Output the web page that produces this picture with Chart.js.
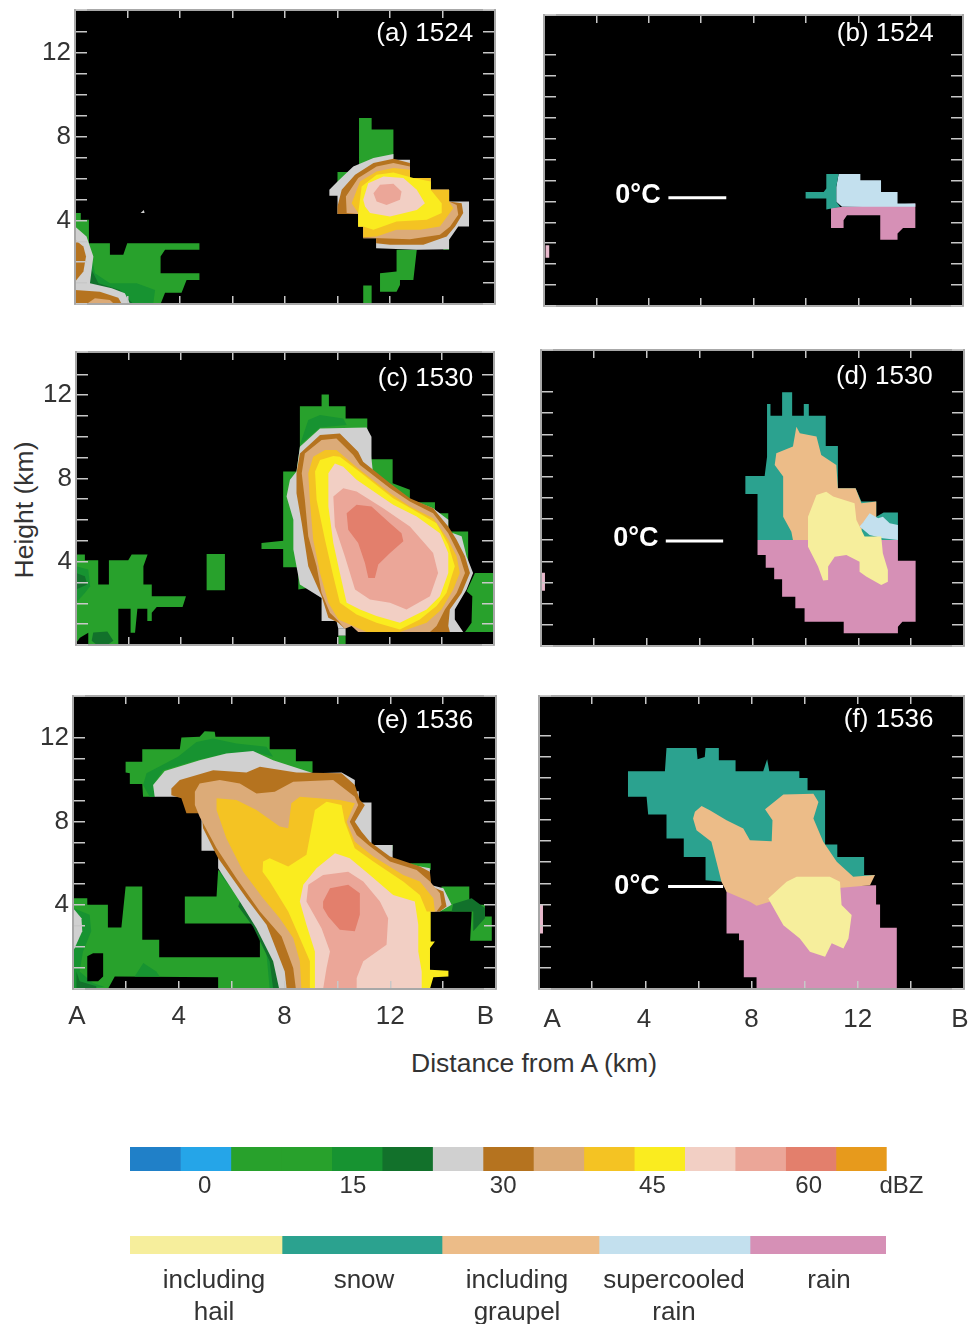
<!DOCTYPE html>
<html lang="en">
<head>
<meta charset="UTF-8">
<title>Radar reflectivity and hydrometeor cross sections</title>
<script src="https://cdn.jsdelivr.net/npm/chart.js"></script>
<style>
    html, body { margin: 0; padding: 0; background: #fff; overflow: hidden; }
    body { width: 970px; height: 1324px; position: relative; font-family: "Liberation Sans", Arial, sans-serif; color: #333; }
    canvas { position: absolute; }
    .axis-title { position: absolute; font-size: 26.5px; white-space: nowrap; }
</style>
</head>
<body>
<div class="axis-title" style="left:24px;top:510px;transform:translate(-50%,-50%) rotate(-90deg);">Height (km)</div>
<div class="axis-title" style="left:534px;top:1063px;transform:translate(-50%,-50%);">Distance from A (km)</div>
<script>
// colours
const green = '#28a12c', green2 = '#179331', green3 = '#12712b', grey = '#d0d0d0', brown = '#b5731f', tan = '#dcab78';
const gold = '#f4c323', yellow = '#faec1f', pink = '#f2cfc4', salmon = '#eba698', red = '#e37f6c';
const hailCol = '#f6ee9c', snowCol = '#2ba28f', graupelCol = '#ecbc88', superCol = '#c3e0ee', rainCol = '#d690b6', rainEdge = '#e8b9cc';

// height ticks and distance labels
const heightLabels = [4, 8, 12];
const distNames = ['A', '4', '8', '12', 'B'];
const distPosE = [0.15, 4, 8, 12, 15.6];
const distPosF = [0.5, 3.95, 8, 12, 15.85];

// (a) reflectivity 1524, outlines in km
const aTopGreen = [[10.82,8.9],[11.3,8.9],[11.3,8.34],[12.13,8.34],[12.13,7],[10.82,6.6]];
const aSideGreen = [[10,6.31],[10.41,6.31],[10.41,6.1],[10,5.46]];
const aBaseGreen = [[12.25,2.59],[13.02,2.59],[12.89,1.15],[12.38,1.15],[12.38,0.91],[12.25,0.59],[11.62,0.59],[11.62,1.47],[12.25,1.55]];
const aTinyGreen = [[14.03,3.07],[14.25,3.07],[14.25,2.59],[14.03,2.59]];
const aFootGreen = [[10.98,0.88],[11.3,0.88],[11.3,0],[10.98,0]];
const aGrey = [[9.69,5.46],[10,5.86],[10.6,6.58],[11.37,6.98],[12.13,7.17],[12.13,6.9],[12.76,6.9],[12.76,6.02],[13.55,6.02],[13.55,5.46],[14.25,5.46],[14.25,4.9],[15.01,4.9],[15.01,3.71],[14.6,3.71],[14.25,3.07],[14.25,2.62],[13.02,2.59],[11.47,2.67],[11.47,3.15],[10.98,3.15],[10.98,3.71],[10.79,3.71],[10.79,4.31],[10,4.31],[10,5.18],[9.69,5.18]];
const aBrown = [[10,4.66],[10.16,5.46],[10.67,6.18],[11.37,6.74],[12.13,6.95],[12.76,6.74],[12.76,6.02],[13.55,6.02],[13.55,5.46],[14.25,5.46],[14.25,4.9],[14.73,4.82],[14.79,4.35],[14.48,3.71],[14.16,3.23],[13.27,2.83],[12,2.83],[11.47,2.91],[11.47,3.15],[10.98,3.15],[10.98,3.71],[10.79,3.71],[10.79,4.31],[10,4.31]];
const aTan = [[10.35,4.35],[10.32,5.14],[10.79,6.02],[11.49,6.58],[12.13,6.74],[12.76,6.58],[12.76,6.02],[13.55,6.02],[13.55,5.46],[14.25,5.46],[14.25,4.9],[14.54,4.74],[14.6,4.27],[14.29,3.71],[13.9,3.31],[12.76,3.1],[11.62,3.15],[10.98,3.19],[10.98,3.71],[10.79,3.71],[10.79,4.31]];
const aGold = [[10.54,4.82],[10.86,5.86],[11.49,6.34],[12.13,6.5],[12.76,6.42],[12.76,6.02],[13.55,6.02],[13.55,5.46],[14.25,5.46],[14.25,4.9],[14.41,4.58],[13.9,3.71],[13.14,3.55],[12.25,3.55],[11.49,3.23],[10.98,3.19],[10.98,3.71],[10.79,3.71],[10.79,4.35]];
const aYellow = [[10.79,4.35],[10.92,5.62],[11.49,6.18],[12.13,6.29],[12.89,6.02],[13.55,5.86],[13.55,5.46],[13.97,4.82],[13.97,4.35],[13.4,4.03],[12.25,3.95],[11.37,3.55],[10.98,3.71],[10.79,3.71]];
const aPink = [[10.98,4.98],[11.17,5.78],[11.75,6.1],[12.51,6.02],[13.02,5.46],[13.33,4.82],[13.02,4.5],[12,4.19],[11.24,4.35],[11.05,4.66]];
const aSalmon = [[11.37,5.3],[11.62,5.7],[12.13,5.75],[12.44,5.38],[12.38,4.98],[11.87,4.74],[11.49,4.9]];
const aLeftGreen = [[0,4.35],[0.22,4.35],[0.22,4.03],[0.53,4.03],[0.53,2.91],[1.33,2.91],[1.33,2.35],[1.84,2.35],[1.99,2.91],[4.74,2.91],[4.74,2.59],[3.43,2.59],[3.26,2.27],[3.26,1.47],[4.74,1.47],[4.74,1.15],[4.25,1.15],[4.06,0.54],[3.43,0.54],[3.26,0],[0,0]];
const aLeftGreen2 = [[0.57,2.75],[0.76,1.47],[1.33,0.99],[2.35,0.99],[3.05,0.67],[2.98,0],[0,0],[0,3.71]];
const aLeftGreen3 = [[0.57,1.79],[0.89,0.99],[1.71,0.67],[2.22,0],[0,0]];
const aLeftGrey = [[0,3.71],[0.44,3.23],[0.7,2.27],[0.57,0.99],[1.4,0.75],[1.9,0.51],[2.1,0],[0,0]];
const aLeftBrown1 = [[0,3.07],[0.32,2.75],[0.42,2.27],[0.32,1.55],[0,1.07]];
const aLeftBrown2 = [[0,0.67],[0.95,0.59],[1.65,0.3],[1.78,0],[0,0]];
const aLeftTan = [[0.44,0],[0.76,0.27],[1.33,0.19],[1.49,0]];
const aSpeck = [[2.5,4.35],[2.62,4.5],[2.65,4.35]];

// (b) hydrometeors 1524
const bRain = [[10.96,4.7],[14.18,4.9],[14.18,3.73],[13.71,3.73],[13.5,3.46],[13.5,3.17],[12.84,3.17],[12.84,4.34],[11.57,4.34],[11.44,4.1],[11.44,3.73],[10.96,3.73]];
const bSuper = [[11.25,6.3],[12.08,6.3],[12.08,6.01],[12.87,6.01],[12.87,5.45],[13.5,5.45],[13.5,4.9],[14.18,4.9],[14.18,4.74],[11.38,4.74],[11.16,4.98],[11.16,5.69]];
const bSnow = [[10.78,6.3],[11.25,6.3],[11.16,5.69],[11.16,4.98],[11.31,4.74],[10.78,4.61],[10.78,5.14],[9.99,5.14],[9.99,5.45],[10.68,5.45],[10.78,5.61]];
const bEdge = [[0.06,2.9],[0.2,2.9],[0.2,2.31],[0.06,2.31]];

// (c) reflectivity 1530
const cStormGreen = [[8.57,11.47],[9.4,11.47],[9.4,12.03],[9.68,12.03],[9.68,11.47],[10.32,11.47],[10.32,10.88],[11.15,10.88],[11.15,10.4],[11.31,8.92],[12.12,8.92],[12.12,7.77],[12.78,7.45],[12.78,6.86],[13.74,6.86],[13.74,6.33],[14.25,6.33],[14.25,5.45],[15.01,5.45],[15.01,3.46],[12.4,3.46],[8.51,2.66],[8.51,3.73],[7.93,3.73],[7.93,4.61],[7.1,4.61],[7.1,4.9],[7.93,5.01],[7.93,8.33],[8.44,8.33],[8.57,9.52]];
const cTopGreen2 = [[8.57,9.6],[8.89,10.8],[9.34,11.04],[10.23,10.88],[10.36,10.56],[9.34,10.45],[8.64,9.68]];
const cGrey = [[8.57,9.52],[9.34,10.4],[11.12,10.45],[11.31,10],[11.31,8.96],[11.38,8.09],[12.14,7.61],[12.78,7],[13.67,6.57],[14.25,6.01],[14.25,5.45],[14.76,5.22],[14.95,4.26],[15.2,3.46],[14.95,2.66],[14.5,1.71],[14.5,1.23],[14.82,0.62],[10.8,0.62],[10.8,1.15],[10.55,1.15],[10.29,0.78],[10.04,0.78],[9.97,1.15],[9.4,1.15],[9.4,2.26],[8.57,2.9],[8.32,4.58],[8.32,6.01],[8.06,7.13],[8.19,7.93],[8.44,8.33]];
const cBrown = [[8.44,8.25],[8.57,9.2],[9.34,10.08],[10.1,10.16],[10.8,9.28],[10.99,8.8],[12.02,7.77],[12.78,7.05],[13.67,6.57],[14.25,5.69],[14.57,5.06],[14.89,4.26],[15.08,3.46],[14.76,2.5],[14.31,1.71],[14.25,0.91],[14.31,0.62],[10.8,0.62],[10.8,1.15],[10.55,1.15],[10.29,0.78],[10.04,1.07],[9.66,1.31],[9.4,2.34],[8.89,3.78],[8.64,5.85],[8.44,7.29]];
const cTan = [[8.64,8.25],[8.76,9.2],[9.4,9.84],[9.97,9.92],[10.61,9.12],[10.87,8.64],[12.02,7.53],[12.78,6.89],[13.67,6.33],[14.25,5.37],[14.69,4.26],[14.89,3.46],[14.57,2.5],[14.12,1.71],[13.8,0.91],[13.55,0.62],[10.8,0.62],[10.55,0.91],[10.29,0.78],[10.04,1.15],[9.72,1.55],[9.4,2.5],[9.21,3.78],[8.89,5.22],[8.76,6.97]];
const cGold = [[8.89,8.25],[9.08,9.04],[9.53,9.36],[9.97,9.36],[10.8,8.48],[12.02,7.29],[12.78,6.65],[13.67,6.09],[14.25,5.06],[14.57,4.26],[14.69,3.46],[14.44,2.66],[13.99,1.71],[13.42,1.07],[12.4,0.62],[11.12,0.62],[10.61,0.91],[10.04,1.23],[9.66,2.03],[9.34,3.46],[9.08,5.06],[8.95,6.97]];
const cYellow = [[9.15,8.33],[9.34,8.88],[9.85,9.07],[10.1,9.04],[10.93,8.25],[12.14,7.05],[12.91,6.49],[13.8,5.85],[14.25,4.82],[14.5,3.78],[14.18,2.5],[13.8,1.87],[13.16,1.23],[12.4,0.75],[11.5,1.07],[10.74,1.47],[10.1,2.03],[9.85,3.3],[9.53,5.06],[9.21,6.97]];
const cPink = [[9.66,8.25],[9.91,8.72],[10.23,8.56],[10.74,7.93],[12.14,6.73],[13.04,6.17],[13.93,5.37],[14.25,4.42],[14.25,3.46],[13.93,2.34],[13.42,1.71],[12.4,1.07],[11.5,1.39],[10.87,1.71],[10.36,2.03],[10.1,3.46],[9.85,4.9],[9.66,6.65]];
const cSalmon = [[9.85,7.13],[10.23,7.53],[10.74,7.37],[11.76,6.57],[12.78,5.69],[13.67,4.42],[13.86,3.46],[13.55,2.34],[12.65,1.71],[12.02,2.03],[11.25,2.19],[10.68,2.66],[10.29,4.26],[9.91,5.69]];
const cRed = [[10.36,6.33],[10.74,6.73],[11.31,6.65],[12.02,5.85],[12.46,5.37],[12.53,4.98],[12.02,4.42],[11.57,3.86],[11.44,3.22],[11.19,3.22],[11.06,3.94],[10.8,4.9],[10.42,5.53]];
const cLeftGreen = [[0,4.34],[0.34,4.34],[0.34,4.07],[0.85,4.07],[0.85,2.9],[1.24,2.9],[1.26,4.07],[2,4.07],[2.13,4.34],[2.74,4.34],[2.58,3.78],[2.58,2.9],[2.9,2.9],[2.9,2.34],[4.21,2.34],[4.08,1.82],[3.09,1.82],[2.9,1.55],[2.9,1.15],[2.73,1.15],[2.73,1.74],[2.35,1.74],[2.26,0.59],[2.09,0.59],[2.09,1.74],[1.62,1.74],[1.62,0],[0.47,0],[0.47,0.59],[0.15,0.35],[0,0.1]];
const cLeftGreen2 = [[0,3.78],[0.47,3.62],[0.54,2.82],[0.34,2.5],[0,2.03]];
const cLeftGreen3 = [[0,3.46],[0.34,3.3],[0.43,2.9],[0,2.66]];
const cFootGreen3 = [[0.66,0.6],[1.2,0.65],[1.43,0.2],[1.2,0],[0.8,0],[0.6,0.2]];
const cBlock = [[5,4.37],[5.7,4.37],[5.7,2.63],[5,2.63]];
const cRightGreen = [[15.27,3.46],[16,3.46],[16,0.62],[14.89,0.62],[15.14,1.07],[15.17,2.34],[14.95,2.58]];
const cFootGrey = [[10.04,0.78],[10.32,0.78],[10.32,0.45],[10.04,0.45]];
const cFootGreen = [[10.04,0.45],[10.32,0.45],[10.32,0],[10.04,0]];

// (d) hydrometeors 1530
const dSnow = [[8.55,11.43],[8.68,11.43],[8.68,10.87],[9.12,10.87],[9.12,11.98],[9.5,11.98],[9.5,10.87],[9.94,10.87],[9.94,11.43],[10.13,11.43],[10.13,10.87],[10.77,10.87],[10.77,9.45],[11.23,9.45],[11.23,7.45],[11.9,7.45],[12.12,6.82],[12.68,6.82],[12.68,6.11],[12.96,6.3],[13.5,6.3],[13.5,5.01],[8.19,5.01],[8.19,7.18],[7.73,7.18],[7.73,8.03],[8.46,8.03],[8.55,8.94]];
const dGraupel = [[9.66,10.36],[9.79,10.05],[10.42,9.89],[10.6,9.02],[11.17,8.55],[11.23,7.45],[11.9,7.45],[12.12,6.74],[12.68,6.82],[12.68,6.11],[12.18,5.83],[12.05,5.01],[9.53,5.01],[9.47,5.4],[9.16,6.11],[9.16,8],[8.84,8.55],[8.9,9.1],[9.53,9.42]];
const dRain = [[8.19,5.01],[13.5,5.01],[13.5,4.03],[14.17,4.03],[14.17,1.15],[13.67,1.15],[13.5,0.91],[13.5,0.6],[11.45,0.6],[11.45,1.15],[9.97,1.15],[9.97,1.78],[9.62,1.78],[9.62,2.33],[9.12,2.33],[9.12,3.15],[8.82,3.15],[8.82,3.7],[8.5,3.7],[8.5,4.3],[8.19,4.3]];
const dSuper = [[12.18,5.83],[12.43,6.27],[12.75,6.03],[12.93,6.11],[13.19,5.8],[13.5,5.72],[13.5,5.01],[12.93,5.09],[12.43,5.24],[12.05,5.64]];
const dHail = [[10.1,6.11],[10.42,7.13],[10.79,7.29],[11.05,7.06],[11.86,6.74],[11.93,5.95],[12.24,5.17],[12.87,5.17],[12.93,4.38],[13.12,3.59],[13.12,3.04],[12.87,2.88],[12.3,3.28],[12.05,3.51],[12.05,3.98],[11.55,4.3],[11.11,4.22],[10.86,3.75],[10.86,3.12],[10.67,3.09],[10.48,3.75],[10.1,4.69]];
const dEdge = [[0,3.46],[0.15,3.46],[0.15,2.61],[0,2.61]];

// (e) reflectivity 1536
const eTopGreen = [[1.99,10.84],[2.62,10.84],[2.62,11.44],[4.04,11.44],[4.1,12],[4.79,12.03],[4.98,12.3],[5.36,12.27],[5.39,12.03],[7.44,12.03],[7.44,11.44],[8.43,11.44],[8.43,10.87],[9.06,10.87],[9.06,10.33],[5,9.7],[3.03,9.17],[2.65,9.17],[2.62,9.78],[2.15,9.78],[2.15,10.29],[1.99,10.33]];
const eTopGreen3 = [[2.9,9.17],[2.65,9.73],[2.78,10.29],[3.97,11.08],[4.67,11.79],[5.3,11.95],[6.18,11.71],[7.32,11.56],[7.57,11.08],[6.81,11.32],[5.8,11.24],[4.67,10.92],[3.41,10.44],[3.03,9.73],[3.09,9.17]];
const eBaseGreen = [[0,4.33],[0.54,4.33],[0.54,4.02],[1.32,4.02],[1.32,2.94],[1.83,2.94],[1.99,4.89],[2.62,4.89],[2.62,2.35],[3.26,2.35],[3.26,1.52],[7.07,1.52],[7.07,3.13],[4.23,3.13],[4.23,4.41],[5.43,4.41],[5.49,5.68],[6.56,4.33],[7.32,3.06],[8.01,1.5],[8.14,0],[5.49,0],[5.49,0.56],[1.58,0.6],[1.32,0],[0,0]];
const eStormGreen2 = [[5.49,5.68],[6.56,4.33],[7.32,3.06],[8.01,1.5],[8.14,0],[7.44,0],[7.31,1.79],[6.69,3.7],[5.68,5.29]];
const eStormGreen3 = [[6.31,4.17],[7,2.98],[7.57,1.79],[7.82,0],[7.57,0],[7.44,1.32],[6.81,2.98],[6.25,3.94]];
const eLeftGreen2 = [[0,3.86],[0.63,3.54],[0.69,2.75],[0.38,1.79],[0.25,0.84],[0.76,0.29],[1.2,0.1],[0,0]];
const eLeftGreen3 = [[0.13,0.84],[0.25,0.37],[0.88,0.13],[0.88,0],[0.13,0]];
const eLeftGrey = [[0,3.86],[0.32,3.38],[0.35,2.75],[0.06,1.95],[0,1.79]];
const eHole = [[0.54,1.56],[0.76,1.71],[1.14,1.71],[1.14,0.6],[0.95,0.37],[0.54,0.37]];
const eBump = [[2.66,1.24],[3.15,0.84],[3.28,0.6],[2.33,0.6]];
const eRightGreen = [[13.94,4.89],[14.99,4.89],[14.99,4.02],[15.58,4.02],[15.58,3.46],[15.84,3.46],[15.84,2.3],[15.02,2.3],[15.08,3.7],[13.88,3.7]];
const eRightGreen3 = [[14.38,4.05],[15.08,4.33],[15.58,3.86],[15.58,3.38],[15.14,2.75],[15.14,3.7],[14.32,3.7]];
const eStrip1 = [[12.74,6],[13.53,6],[13.53,5.68],[13,5.76]];
const eStrip2 = [[11.6,6.87],[12.09,6.87],[12.09,6.6],[11.86,6.71]];
const eGrey = [[3.03,9.73],[3.47,10.4],[4.79,10.92],[5.8,11.24],[6.81,11.35],[7.57,10.92],[9.09,10.29],[10.16,10.33],[10.66,9.97],[10.66,9.44],[10.81,9.44],[10.81,8.9],[11.29,8.9],[11.29,6.87],[12.09,6.87],[12.09,6.08],[13.5,5.76],[13.5,4.97],[14.01,4.81],[14.32,4.02],[13.88,3.7],[13.5,3.7],[13.5,0],[7.8,0],[7.57,1.32],[6.94,2.9],[6.31,4.17],[5.49,5.76],[5.49,6.6],[4.86,6.6],[4.86,8.3],[4.1,9.17],[3.09,9.17]];
const eBrown = [[3.72,9.57],[4.04,9.97],[5.3,10.44],[6.56,10.33],[7.07,10.6],[8.45,10.33],[10.16,10.29],[10.66,9.73],[10.85,9.02],[11.04,8.78],[10.66,7.98],[10.91,7.51],[11.23,7.03],[11.99,6.32],[13.12,5.84],[13.5,5.6],[13.56,4.89],[14.01,4.65],[14.13,3.94],[13.88,3.7],[13.5,3.7],[13.5,0],[8.08,0],[8.01,0.84],[7.32,3.06],[6.56,4.33],[5.49,6.24],[4.92,7.67],[4.86,8.38],[4.29,8.38],[4.1,9.1],[3.72,9.25]];
const eTan = [[4.61,9.41],[4.79,9.81],[5.55,9.97],[6.31,9.81],[6.94,9.33],[7.63,9.41],[8.33,9.89],[9.84,9.97],[10.66,9.17],[10.79,8.78],[10.47,7.98],[10.73,7.35],[11.17,6.87],[11.99,6.08],[13,5.68],[13.5,5.13],[13.88,4.57],[13.94,4.02],[13.75,3.7],[13.5,3.7],[13.5,0],[8.43,0],[8.33,1],[7.89,2.51],[7.07,3.7],[6.18,5.29],[5.43,6.71],[4.79,8.22],[4.61,8.78]];
const eGold = [[5.43,9.1],[6.18,9.02],[6.94,8.54],[7.82,7.75],[8.14,7.67],[8.26,8.86],[8.58,9.17],[10.09,9.02],[10.66,8.86],[10.35,7.98],[10.66,7.03],[11.36,6.32],[12.49,5.44],[13.12,5.13],[13.63,4.33],[13.69,3.7],[13.5,3.7],[13.5,0],[8.64,0],[8.58,1.32],[8.33,2.43],[7.82,3.38],[7.19,4.33],[6.44,5.6],[5.8,7.19],[5.43,8.54]];
const eYellow = [[7.19,6.08],[7.44,6.24],[8.14,5.84],[8.83,6.4],[9.15,8.54],[9.59,8.94],[10.16,8.78],[10.28,7.98],[10.66,6.71],[11.36,6.08],[12.49,5.13],[13.12,4.49],[13.38,3.7],[13.53,3.7],[13.53,2.27],[13.69,2.27],[13.5,1.95],[13.5,0.92],[14.2,0.87],[14.2,0.6],[13.63,0.56],[13.5,0],[8.96,0],[8.96,1.32],[8.58,2.43],[8.14,3.7],[7.44,5.13],[7.17,5.6]];
const ePink = [[8.71,4.97],[9.21,5.76],[9.91,6.48],[10.47,6.24],[11.23,5.44],[12.11,4.49],[12.93,4.17],[13.06,3.06],[13.06,1.79],[13.19,0.84],[13.19,0],[9.15,0],[9.15,1.79],[8.83,3.06],[8.58,4.17]];
const eSalmon = [[8.9,4.97],[9.46,5.44],[10.41,5.6],[10.98,5.13],[11.61,4.17],[11.92,3.38],[11.86,2.11],[10.98,1.32],[10.73,0.52],[10.73,0],[9.46,0],[9.59,1],[9.72,1.79],[9.4,2.9],[8.83,4.17]];
const eRed = [[9.46,4.17],[9.72,4.81],[10.41,4.97],[10.85,4.57],[10.85,3.54],[10.66,2.75],[10.09,2.83],[9.65,3.46],[9.46,3.86]];

// (f) hydrometeors 1536
const fSnow = [[4.8,11.4],[5.93,11.4],[5.97,10.87],[6.24,10.98],[6.27,11.4],[6.77,11.4],[6.77,10.82],[7.4,10.82],[7.4,10.3],[8.44,10.3],[8.59,10.87],[8.67,10.3],[9.8,10.3],[9.8,9.98],[10.11,9.98],[10.11,9.4],[10.77,9.4],[10.77,6.83],[11.23,6.83],[11.23,6.25],[12.24,6.25],[12.24,5.39],[12.65,5.39],[12.21,5.07],[6.93,5.07],[6.27,5.15],[6.27,6.25],[5.45,6.25],[5.45,7.12],[4.8,7.12],[4.8,8.25],[4.11,8.25],[4.05,9.09],[3.35,9.09],[3.35,10.3],[4.74,10.3]];
const fRain = [[7.06,4.76],[12.69,4.91],[12.69,4],[12.84,4],[12.84,2.9],[13.47,2.9],[13.47,0],[8.19,0],[8.19,0.55],[7.71,0.55],[7.71,2.31],[7.53,2.31],[7.53,2.63],[7.06,2.63]];
const fGraupel = [[5.87,8.38],[6.12,8.66],[6.43,8.46],[7.06,7.98],[7.69,7.59],[7.94,7.04],[8.76,6.99],[8.79,7.98],[8.51,8.5],[9.2,9.2],[10.33,9.24],[10.52,8.85],[10.33,8.06],[10.7,6.96],[11.21,6.02],[11.83,5.31],[12.65,5.39],[12.46,4.91],[11.39,4.79],[9.5,4.6],[8.69,4.13],[8.19,3.94],[7.94,4.13],[7.06,4.6],[6.87,5.07],[6.68,6.02],[6.49,6.96],[5.93,7.51],[5.8,8.06]];
const fHail = [[8.63,4.28],[9.32,5.07],[9.7,5.31],[10.95,5.31],[11.33,5.07],[11.39,3.97],[11.77,3.5],[11.65,2.39],[11.46,1.92],[11.02,2.16],[10.77,1.53],[10.2,1.76],[9.82,2.39],[9.2,3.02],[8.88,3.73]];
const fEdge = [[0,3.97],[0.15,3.97],[0.15,2.63],[0,2.63]];

// freezing level lines and labels, km
const bFreeze = [[4.75,5.17],[6.96,5.17]];
const dFreeze = [[4.72,4.96],[6.89,4.96]];
const fFreeze = [[4.86,4.85],[6.93,4.85]];

// colour scales
const dbzEdges = [-7.5,-2.5,2.5,7.5,12.5,17.5,22.5,27.5,32.5,37.5,42.5,47.5,52.5,57.5,62.5,67.5];
const dbzColors = ['#2080c8','#25a5e8',green,green,green2,green3,grey,brown,tan,gold,yellow,pink,salmon,red,'#e79a1c'];
const dbzTickPos = [-0.1,14.6,29.5,44.3,59.8,69];
const dbzTickText = ['0','15','30','45','60','dBZ'];
const phaseEdges = [0,152,312,469,620,756];
const phaseColors = [hailCol,snowCol,graupelCol,superCol,rainCol];
const phaseTickPos = [84,234,387,544,699];
const phaseTickText = [['including','hail'],['snow'],['including','graupel'],['supercooled','rain'],['rain']];

Chart.defaults.font.family = '"Liberation Sans", Arial, sans-serif';
Chart.defaults.color = '#333';
Chart.defaults.animation = false;

// black plot background and the white text inside the panels
const panelPaint = {
    id: 'panelPaint',
    beforeDraw(chart) {
        const a = chart.chartArea, ctx = chart.ctx;
        if (chart.config.type !== 'scatter') return;
        ctx.save();
        ctx.fillStyle = '#000';
        ctx.fillRect(a.left, a.top, a.width, a.height);
        ctx.restore();
    },
    afterDraw(chart, args, opts) {
        if (!opts.items) return;
        const ctx = chart.ctx;
        ctx.save();
        ctx.fillStyle = '#fff';
        ctx.textBaseline = 'middle';
        opts.items.forEach(t => {
            ctx.font = t.font;
            ctx.textAlign = t.align;
            ctx.fillText(t.text, chart.scales.x.getPixelForValue(t.x), chart.scales.y.getPixelForValue(t.y));
        });
        ctx.restore();
    }
};
Chart.register(panelPaint);

function addCanvas(left, top, width, height) {
    const c = document.createElement('canvas');
    c.width = width;
    c.height = height;
    c.style.left = left + 'px';
    c.style.top = top + 'px';
    c.style.width = width + 'px';
    c.style.height = height + 'px';
    document.body.appendChild(c);
    return c;
}

// room round each plot; axis padding needs this much or chart area shrinks
const marginLeft = 50, marginTop = 36, marginRight = 24, marginBottom = 45;

function drawPanel(p) {
    const canvas = addCanvas(p.box[0] - marginLeft, p.box[1] - marginTop,
        p.box[2] - p.box[0] + marginLeft + marginRight, p.box[3] - p.box[1] + marginTop + marginBottom);
    const n = p.layers.length;
    const datasets = p.layers.map((l, i) => ({
        data: l[0].map(v => ({x: v[0], y: v[1]})),
        backgroundColor: l[1],
        fill: 'shape',
        showLine: true,
        borderWidth: 0,
        pointRadius: 0,
        order: n - i + 1
    }));
    if (p.freeze) {
        datasets.push({
            data: p.freeze.map(v => ({x: v[0], y: v[1]})),
            borderColor: '#fff',
            borderWidth: 3,
            fill: false,
            showLine: true,
            pointRadius: 0,
            order: 0
        });
    }
    const grid = len => ({display: true, drawOnChartArea: false, drawTicks: true, tickLength: -len, color: '#c8c8c8', lineWidth: 1.5, z: 1});
    const border = {display: true, color: '#a8a8a8', width: 2, z: 1};
    const xAxis = (position, height) => ({
        type: 'linear', position, min: 0, max: 16,
        ticks: {display: false, stepSize: 2},
        grid: grid(8), border,
        afterFit(s) { s.height = height; }
    });
    const yAxis = (position, width, labels) => ({
        type: 'linear', position, min: 0, max: p.yMax,
        ticks: {
            display: labels, stepSize: 1, autoSkip: false, padding: 16,
            font: {size: 26}, color: '#333',
            callback: v => heightLabels.includes(v) ? String(v) : ''
        },
        grid: grid(12), border,
        afterFit(s) { s.width = width; }
    });
    new Chart(canvas, {
        type: 'scatter',
        data: {datasets},
        options: {
            responsive: false,
            layout: {padding: 0},
            plugins: {legend: {display: false}, tooltip: {enabled: false}, panelPaint: {items: p.text}},
            scales: {
                x: xAxis('bottom', 0),
                x2: xAxis('top', marginTop),
                y: yAxis('left', marginLeft, p.labelled),
                y2: yAxis('right', marginRight, false),
                xNames: {
                    type: 'linear', position: 'bottom', min: 0, max: 16, weight: 5,
                    grid: {display: false}, border: {display: false},
                    afterBuildTicks(s) { s.ticks = (p.namePos || []).map(value => ({value})); },
                    ticks: {
                        display: !!p.names, autoSkip: false, maxRotation: 0, padding: p.namePad || 0,
                        font: {size: 26}, color: '#333',
                        callback: (v, i) => p.names ? p.names[i] : ''
                    },
                    afterFit(s) { s.height = marginBottom; }
                }
            }
        }
    });
}

const titleFont = '26px "Liberation Sans", Arial, sans-serif';
const freezeFont = 'bold 27px "Liberation Sans", Arial, sans-serif';

const panels = [
    {box: [75, 10, 495, 304], yMax: 14.06, labelled: true,
     text: [{text: '(a) 1524', x: 15.17, y: 12.94, font: titleFont, align: 'right'}],
     layers: [[aTopGreen,green],[aSideGreen,green],[aBaseGreen,green],[aTinyGreen,green],[aFootGreen,green],[aGrey,grey],[aBrown,brown],[aTan,tan],[aGold,gold],[aYellow,yellow],[aPink,pink],[aSalmon,salmon],
              [aLeftGreen,green],[aLeftGreen2,green2],[aLeftGreen3,green3],[aLeftGrey,grey],[aLeftBrown1,brown],[aLeftBrown2,brown],[aLeftTan,tan],[aSpeck,grey]]},
    {box: [544, 15, 963, 306], yMax: 13.9, labelled: false, freeze: bFreeze,
     text: [{text: '(b) 1524', x: 14.88, y: 13, font: titleFont, align: 'right'}, {text: '0\u00b0C', x: 3.59, y: 5.29, font: freezeFont, align: 'center'}],
     layers: [[bRain,rainCol],[bSuper,superCol],[bSnow,snowCol],[bEdge,rainEdge]]},
    {box: [76, 352, 494, 645], yMax: 14.07, labelled: true,
     text: [{text: '(c) 1530', x: 15.2, y: 12.8, font: titleFont, align: 'right'}],
     layers: [[cStormGreen,green],[cTopGreen2,green2],[cGrey,grey],[cBrown,brown],[cTan,tan],[cGold,gold],[cYellow,yellow],[cPink,pink],[cSalmon,salmon],[cRed,red],
              [cLeftGreen,green],[cLeftGreen2,green2],[cLeftGreen3,green3],[cFootGreen3,green3],[cBlock,green],[cRightGreen,green],[cFootGrey,grey],[cFootGreen,green]]},
    {box: [541, 350, 964, 646], yMax: 13.98, labelled: false, freeze: dFreeze,
     text: [{text: '(d) 1530', x: 14.82, y: 12.7, font: titleFont, align: 'right'}, {text: '0\u00b0C', x: 3.59, y: 5.09, font: freezeFont, align: 'center'}],
     layers: [[dSnow,snowCol],[dGraupel,graupelCol],[dRain,rainCol],[dSuper,superCol],[dHail,hailCol],[dEdge,rainEdge]]},
    {box: [73, 696, 496, 989], yMax: 13.98, labelled: true, names: distNames, namePos: distPosE, namePad: 4,
     text: [{text: '(e) 1536', x: 15.14, y: 12.8, font: titleFont, align: 'right'}],
     layers: [[eTopGreen,green],[eTopGreen3,green2],[eBaseGreen,green],[eStormGreen2,green2],[eStormGreen3,green3],[eLeftGreen2,green2],[eLeftGreen3,green3],[eLeftGrey,grey],[eHole,'#000'],[eBump,green2],
              [eRightGreen,green],[eRightGreen3,green3],[eStrip1,green],[eStrip2,green],[eGrey,grey],[eBrown,brown],[eTan,tan],[eGold,gold],[eYellow,yellow],[ePink,pink],[eSalmon,salmon],[eRed,red]]},
    {box: [539, 696, 964, 989], yMax: 13.86, labelled: false, names: distNames, namePos: distPosF, namePad: 7, freeze: fFreeze,
     text: [{text: '(f) 1536', x: 14.85, y: 12.74, font: titleFont, align: 'right'}, {text: '0\u00b0C', x: 3.69, y: 4.83, font: freezeFont, align: 'center'}],
     layers: [[fSnow,snowCol],[fRain,rainCol],[fGraupel,graupelCol],[fHail,hailCol],[fEdge,rainEdge]]}
];
panels.forEach(drawPanel);

function drawScaleBar(cfg) {
    const canvas = addCanvas(0, cfg.top, 970, cfg.height + cfg.below);
    new Chart(canvas, {
        type: 'bar',
        data: {
            labels: ['scale'],
            datasets: cfg.colors.map((c, i) => ({
                data: [[cfg.edges[i], cfg.edges[i + 1]]],
                backgroundColor: c,
                borderWidth: 0,
                grouped: false,
                barPercentage: 1,
                categoryPercentage: 1
            }))
        },
        options: {
            indexAxis: 'y',
            responsive: false,
            layout: {padding: {left: 130, right: cfg.right, top: 0, bottom: 0}},
            plugins: {legend: {display: false}, tooltip: {enabled: false}},
            scales: {
                y: {display: false},
                x: {
                    type: 'linear', min: cfg.min, max: cfg.max,
                    grid: {display: false}, border: {display: false},
                    afterBuildTicks(s) { s.ticks = cfg.tickPos.map(value => ({value})); },
                    ticks: {
                        autoSkip: false, maxRotation: 0, padding: cfg.pad, color: '#333',
                        font: {size: cfg.font, lineHeight: cfg.lineHeight},
                        callback: (v, i) => cfg.tickText[i]
                    },
                    afterFit(s) { s.height = cfg.below; }
                }
            }
        }
    });
}

drawScaleBar({top: 1147, height: 24, below: 34, edges: dbzEdges, colors: dbzColors, min: -7.5, max: 75, right: 8,
    tickPos: dbzTickPos, tickText: dbzTickText, font: 24, lineHeight: 1.2, pad: -7});
drawScaleBar({top: 1236, height: 18, below: 90, edges: phaseEdges, colors: phaseColors, min: 0, max: 756, right: 84,
    tickPos: phaseTickPos, tickText: phaseTickText, font: 26, lineHeight: 1.23, pad: 3});
</script>
</body>
</html>
